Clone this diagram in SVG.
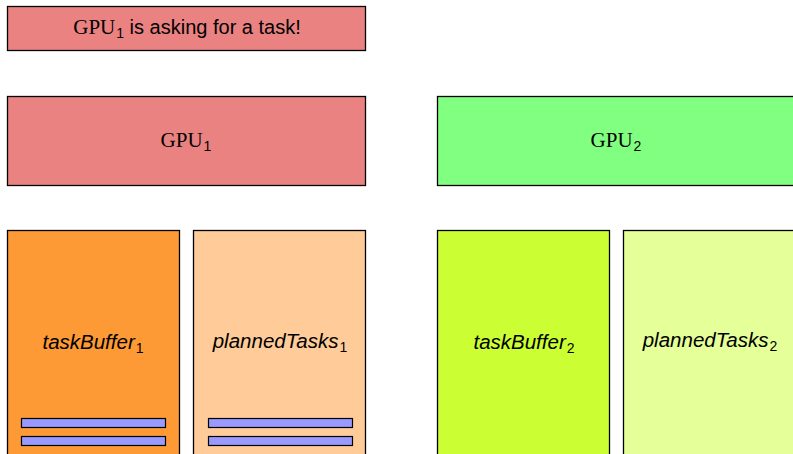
<svg xmlns="http://www.w3.org/2000/svg" width="793" height="454" viewBox="0 0 793 454">
<style>
.box{stroke:#000;stroke-width:1.3}
.bar{fill:#9999ff;stroke:#000;stroke-width:1.2}
.serif{font-family:"Liberation Serif","DejaVu Serif",serif;font-size:21px}
.sans{font-family:"Liberation Sans",Arial,sans-serif;font-size:20px}
.it{font-family:"Liberation Sans",Arial,sans-serif;font-size:20.5px;font-style:italic}
.sub{font-size:14px;font-style:normal;font-family:"Liberation Sans",Arial,sans-serif}
</style>
<rect width="793" height="454" fill="#fff"/>
<g id="msg">
<rect class="box" x="7.5" y="6.5" width="358" height="44" fill="#ea8282"/>
<text x="187" y="34" text-anchor="middle"><tspan class="serif">GPU</tspan><tspan class="sub" dx="1" dy="4">1</tspan><tspan class="sans" dy="-4"> is asking for a task!</tspan></text>
</g>
<g id="gpu1">
<rect class="box" x="7.5" y="96.5" width="358" height="89" fill="#ea8282"/>
<text x="186" y="147" text-anchor="middle" class="serif">GPU<tspan class="sub" dx="1" dy="4">1</tspan></text>
</g>
<g id="gpu2">
<rect class="box" x="437.5" y="96.5" width="360" height="89" fill="#80ff80"/>
<text x="616" y="147" text-anchor="middle" class="serif">GPU<tspan class="sub" dx="1" dy="4">2</tspan></text>
</g>
<g id="taskBuffer1">
<rect class="box" x="7.5" y="230.5" width="172" height="230" fill="#fd9a35"/>
<text x="93" y="349" text-anchor="middle" class="it">taskBuffer<tspan class="sub" dx="1" dy="4">1</tspan></text>
<rect class="bar" x="21.5" y="418.5" width="144" height="9"/>
<rect class="bar" x="21.5" y="436.5" width="144" height="9"/>
</g>
<g id="plannedTasks1">
<rect class="box" x="193.5" y="230.5" width="172" height="230" fill="#ffcc99"/>
<text x="280" y="348" text-anchor="middle" class="it">plannedTasks<tspan class="sub" dx="1" dy="4">1</tspan></text>
<rect class="bar" x="208.5" y="418.5" width="144" height="9"/>
<rect class="bar" x="208.5" y="436.5" width="144" height="9"/>
</g>
<g id="taskBuffer2">
<rect class="box" x="437.5" y="230.5" width="172" height="230" fill="#ccff33"/>
<text x="524" y="349" text-anchor="middle" class="it">taskBuffer<tspan class="sub" dx="1" dy="4">2</tspan></text>
</g>
<g id="plannedTasks2">
<rect class="box" x="623.5" y="230.5" width="174" height="230" fill="#e5ff99"/>
<text x="710" y="347" text-anchor="middle" class="it">plannedTasks<tspan class="sub" dx="1" dy="4">2</tspan></text>
</g>
<g id="connectors"/>
</svg>
